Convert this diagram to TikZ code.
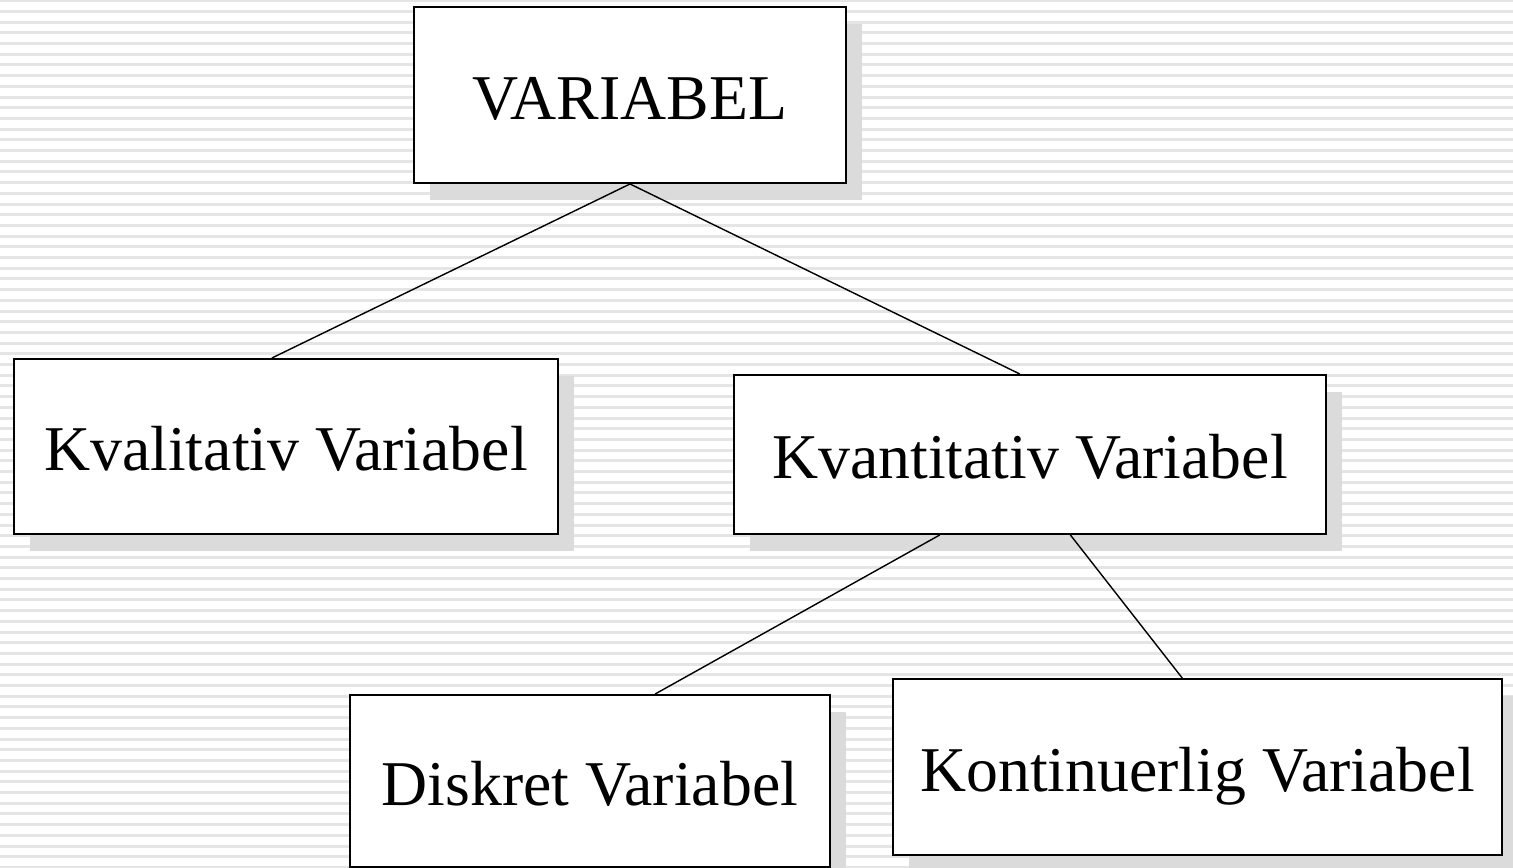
\documentclass[tikz,border=0pt]{standalone}
\usepackage{fontspec}
\setmainfont{Liberation Serif}
\usetikzlibrary{positioning}
\usetikzlibrary{calc}
\usetikzlibrary{shadows}

\begin{document}
\begin{tikzpicture}[x=0.02cm,y=-0.02cm,
		varbox/.style={draw, line width=1.1pt, fill=white, inner sep=0pt,
			font=\fontsize{36.3}{40}\selectfont, text height=1.1cm, text depth=0.14cm,
			drop shadow={shadow xshift=0.32cm, shadow yshift=-0.34cm, fill=black!14, opacity=1}},
		link/.style={line width=0.8pt, black}]
				% bounding box and striped background
				\useasboundingbox (0,0) rectangle (1513,867);
				\foreach \i in {0,...,81}
					\draw[black!10, line width=0.06cm] (0,0.7+10.7*\i) -- (1513,0.7+10.7*\i);
				
				% draw boxes
				\node[varbox, minimum width=0.02cm*432, minimum height=0.02cm*176] (var) at (630,95) {VARIABEL};
				\node[varbox, minimum width=0.02cm*544, minimum height=0.02cm*175] (kval) at (286,446.5) {Kvalitativ Variabel};
				\node[varbox, minimum width=0.02cm*592, minimum height=0.02cm*159] (kvan) at (1030,454.5) {Kvantitativ Variabel};
				\node[varbox, minimum width=0.02cm*480, minimum height=0.02cm*172] (disk) at (590,781) {Diskret Variabel};
				\node[varbox, minimum width=0.02cm*609, minimum height=0.02cm*176] (kont) at (1197.5,767) {Kontinuerlig Variabel};
				
				% draw connectors
				\draw[link] (var.south) -- ($(kval.north west)!0.474!(kval.north east)$);
				\draw[link] (var.south) -- ($(kvan.north west)!0.483!(kvan.north east)$);
				\draw[link] ($(kvan.south west)!0.348!(kvan.south east)$) -- ($(disk.north west)!0.635!(disk.north east)$);
				\draw[link] ($(kvan.south west)!0.568!(kvan.south east)$) -- ($(kont.north west)!0.475!(kont.north east)$);
			\end{tikzpicture}
\end{document}
